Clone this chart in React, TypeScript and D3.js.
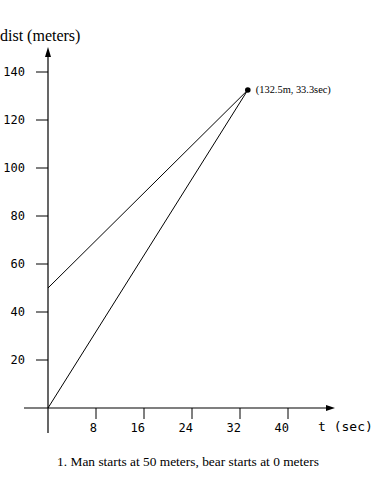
import React from "react";
import * as d3 from "d3";

const yTicks = [20, 40, 60, 80, 100, 120, 140];
const xTicks = [8, 16, 24, 32, 40];
const manLine = [
  { t: 0, d: 50 },
  { t: 33.3, d: 132.5 },
];
const bearLine = [
  { t: 0, d: 0 },
  { t: 33.3, d: 132.5 },
];
const meetPoint = { t: 33.3, d: 132.5 };
const meetLabel = "(132.5m, 33.3sec)";
const yTitle = "dist (meters)";
const xTitle = "t (sec)";
const caption = "1. Man starts at 50 meters, bear starts at 0 meters";

export default function App() {
  const W = 384;
  const H = 480;
  const x = d3.scaleLinear().domain([0, 40]).range([48, 288]);
  const y = d3.scaleLinear().domain([0, 140]).range([408, 72]);
  const line = d3
    .line<{ t: number; d: number }>()
    .x((p) => x(p.t))
    .y((p) => y(p.d));
  const x0 = x(0);
  const y0 = y(0);
  const mono = "DejaVu Sans Mono, monospace";
  const serif = "Liberation Serif, Times New Roman, serif";
  return (
    <svg
      width={W}
      height={H}
      style={{ position: "absolute", left: 0, top: 0, background: "#fff" }}
    >
      <rect width={W} height={H} fill="#fff" />
      {/* y axis */}
      <line x1={x0} x2={x0} y1={56} y2={433} stroke="#000" strokeWidth={1.2} />
      <path d={`M${x0},47 L${x0 - 3},57 L${x0 + 3},57 Z`} fill="#000" />
      {/* x axis */}
      <line x1={24} x2={327} y1={y0} y2={y0} stroke="#000" strokeWidth={1.2} />
      <path d={`M335,${y0} L326,${y0 - 3} L326,${y0 + 3} Z`} fill="#000" />
      {yTicks.map((v) => (
        <g key={"y" + v}>
          <line x1={36} x2={x0} y1={y(v)} y2={y(v)} stroke="#000" strokeWidth={1} />
          <text
            x={25}
            y={y(v)}
            dy="0.35em"
            textAnchor="end"
            fontFamily={mono}
            fontSize={12}
            fill="#000"
          >
            {v}
          </text>
        </g>
      ))}
      {xTicks.map((v) => (
        <g key={"x" + v}>
          <line x1={x(v)} x2={x(v)} y1={y0} y2={419} stroke="#000" strokeWidth={1} />
          <text
            x={x(v) + 1}
            y={432}
            textAnchor="end"
            fontFamily={mono}
            fontSize={12}
            fill="#000"
          >
            {v}
          </text>
        </g>
      ))}
      <path d={line(manLine) || ""} fill="none" stroke="#000" strokeWidth={1} />
      <path d={line(bearLine) || ""} fill="none" stroke="#000" strokeWidth={1} />
      <circle cx={x(meetPoint.t)} cy={y(meetPoint.d)} r={2.8} fill="#000" />
      <text
        x={x(meetPoint.t) + 8}
        y={y(meetPoint.d) + 3}
        fontFamily={serif}
        fontSize={10.4}
        fill="#000"
      >
        {meetLabel}
      </text>
      <text x={318} y={431} fontFamily={mono} fontSize={13} fill="#000">
        {xTitle}
      </text>
      <text x={0} y={41} fontFamily={serif} fontSize={16} fill="#000">
        {yTitle}
      </text>
      <text
        x={188}
        y={466}
        textAnchor="middle"
        fontFamily={serif}
        fontSize={13.4}
        fill="#000"
      >
        {caption}
      </text>
    </svg>
  );
}
